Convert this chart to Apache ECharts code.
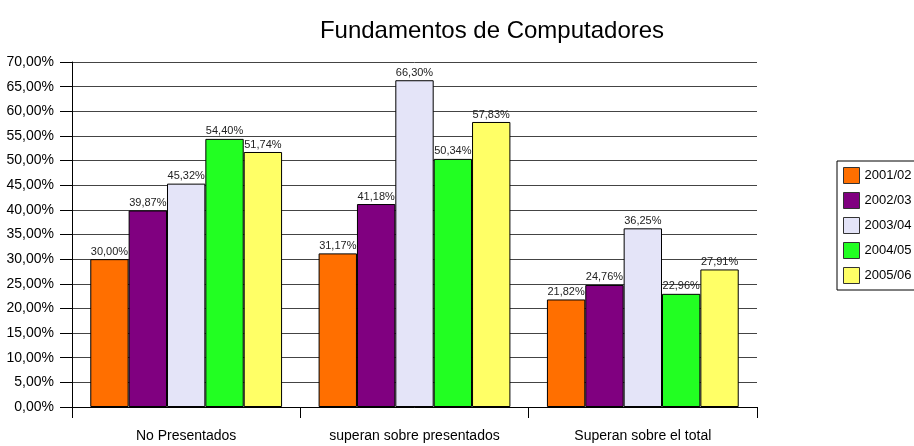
<!DOCTYPE html>
<html>
<head>
<meta charset="utf-8">
<script src="https://cdn.jsdelivr.net/npm/echarts@6/dist/echarts.min.js"></script>
<style>
  html, body { margin: 0; padding: 0; background: #fff; }
  #chart { width: 914px; height: 446px; }
</style>
</head>
<body>
<div id="chart"></div>
<script>
// categorias y series
const categories = ['No Presentados', 'superan sobre presentados', 'Superan sobre el total']
const years = ['2001/02', '2002/03', '2003/04', '2004/05', '2005/06']
const v200102 = [30.00, 31.17, 21.82]
const v200203 = [39.87, 41.18, 24.76]
const v200304 = [45.32, 66.30, 36.25]
const v200405 = [54.40, 50.34, 22.96]
const v200506 = [51.74, 57.83, 27.91]
const colors = ['#FF6F00', '#800080', '#E4E4F8', '#22FF22', '#FFFF66']

const fmt = (v) => v.toFixed(2).replace('.', ',') + '%'
const font = 'Liberation Sans'

const chart = echarts.init(document.getElementById('chart'))

const seriesData = [v200102, v200203, v200304, v200405, v200506].map((d, i) => ({
  name: years[i],
  type: 'bar',
  data: d,
  barGap: '0%',
  barCategoryGap: '16%',
  itemStyle: { color: colors[i], borderColor: '#000', borderWidth: 1 },
  label: {
    show: true,
    position: 'top',
    distance: 2,
    color: '#222',
    fontFamily: font,
    fontSize: 11,
    formatter: (p) => fmt(p.value),
  },
}))

chart.setOption({
  animation: false,
  title: {
    text: 'Fundamentos de Computadores',
    left: 487,
    textAlign: 'center',
    top: 14,
    textStyle: { fontFamily: font, fontSize: 24, fontWeight: 'normal', color: '#000' },
  },
  legend: {
    orient: 'vertical',
    left: 837,
    top: 161,
    padding: [6, 20, 6, 6],
    itemWidth: 16,
    itemHeight: 16,
    itemGap: 8,
    backgroundColor: '#fff',
    borderColor: '#000',
    borderWidth: 1,
    borderRadius: 0,
    textStyle: { fontFamily: font, fontSize: 13, color: '#000' },
    data: years.map((y, i) => ({
      name: y,
      icon: 'rect',
      itemStyle: { color: colors[i], borderColor: '#333', borderWidth: 1 },
    })),
  },
  grid: { left: 72, right: 157, top: 62, bottom: 39, containLabel: false },
  xAxis: {
    type: 'category',
    data: categories,
    boundaryGap: true,
    axisLine: { lineStyle: { color: '#000', width: 1 } },
    axisTick: { show: true, length: 11, lineStyle: { color: '#000' } },
    axisLabel: { color: '#000', fontFamily: font, fontSize: 14, margin: 22 },
  },
  yAxis: {
    type: 'value',
    min: 0,
    max: 70,
    interval: 5,
    axisLine: { show: true, lineStyle: { color: '#000', width: 1 } },
    axisTick: { show: true, length: 12, lineStyle: { color: '#000' } },
    axisLabel: {
      color: '#000',
      fontFamily: font,
      fontSize: 14,
      margin: 18,
      formatter: (v) => fmt(v),
    },
    splitLine: { show: true, lineStyle: { color: '#444', width: 1 } },
  },
  series: seriesData,
})
</script>
</body>
</html>
